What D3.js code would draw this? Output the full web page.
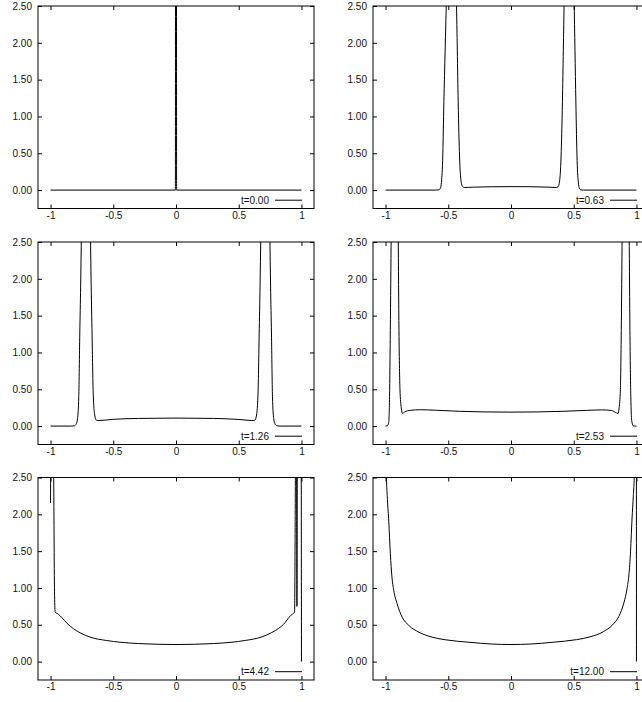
<!DOCTYPE html>
<html>
<head>
<meta charset="utf-8">
<script src="https://cdn.jsdelivr.net/npm/d3@7"></script>
<style>
  body { margin: 0; background: #fff; }
  svg { display: block; font-family: "Liberation Sans", Arial, sans-serif; }
</style>
</head>
<body>
<script>
// panel labels (legend text)
const times = ["t=0.00", "t=0.63", "t=1.26", "t=2.53", "t=4.42", "t=12.00"];

// axis ticks
const xTicks = [-1, -0.5, 0, 0.5, 1];
const xTickLabels = ["-1", "-0.5", "0", "0.5", "1"];
const yTicks = [0, 0.5, 1, 1.5, 2, 2.5];
const yTickLabels = ["0.00", "0.50", "1.00", "1.50", "2.00", "2.50"];

// curves, [x, value]
const curveT000 = [[-1, 0], [-0.005, 0], [0, 30], [0.005, 0], [1, 0]];

const curveT063 = [[-1, 0], [-0.6, 0], [-0.575, 0.002], [-0.562, 0.03], [-0.555, 0.1], [-0.545, 0.4],
  [-0.535, 1.2], [-0.525, 1.9], [-0.515, 2.6], [-0.495, 5], [-0.475, 6], [-0.455, 5], [-0.435, 2.6],
  [-0.428, 1.9], [-0.421, 1.2], [-0.41, 0.45], [-0.398, 0.12], [-0.385, 0.045], [-0.37, 0.035],
  [-0.3, 0.04], [-0.15, 0.045], [0, 0.047], [0.15, 0.046], [0.3, 0.04], [0.36, 0.035], [0.375, 0.045],
  [0.387, 0.12], [0.399, 0.45], [0.41, 1.2], [0.417, 1.9], [0.424, 2.6], [0.444, 5], [0.463, 6],
  [0.483, 5], [0.503, 2.6], [0.51, 1.9], [0.517, 1.2], [0.527, 0.4], [0.537, 0.1], [0.544, 0.03],
  [0.557, 0.002], [0.58, 0], [1, 0]];

const curveT126 = [[-1, 0], [-0.84, 0], [-0.81, 0.004], [-0.795, 0.03], [-0.785, 0.1], [-0.775, 0.4],
  [-0.767, 1.25], [-0.76, 1.9], [-0.754, 2.6], [-0.735, 5], [-0.718, 6], [-0.7, 5], [-0.682, 2.6],
  [-0.676, 1.9], [-0.669, 1.25], [-0.66, 0.45], [-0.648, 0.15], [-0.635, 0.08], [-0.62, 0.075],
  [-0.5, 0.092], [-0.3, 0.104], [0, 0.109], [0.3, 0.104], [0.5, 0.09], [0.6, 0.076], [0.615, 0.075],
  [0.629, 0.08], [0.642, 0.15], [0.654, 0.45], [0.663, 1.25], [0.67, 1.9], [0.676, 2.6], [0.694, 5],
  [0.712, 6], [0.73, 5], [0.748, 2.6], [0.754, 1.9], [0.761, 1.25], [0.769, 0.4], [0.779, 0.1],
  [0.789, 0.03], [0.804, 0.004], [0.83, 0], [1, 0]];

const curveT253 = [[-1, 0], [-0.985, 0.005], [-0.975, 0.05], [-0.968, 0.4], [-0.962, 1.3], [-0.955, 2.6],
  [-0.94, 5], [-0.927, 6], [-0.914, 5], [-0.899, 2.6], [-0.893, 1.3], [-0.885, 0.5], [-0.875, 0.25],
  [-0.865, 0.172], [-0.85, 0.19], [-0.8, 0.215], [-0.72, 0.222], [-0.6, 0.215], [-0.4, 0.2],
  [-0.2, 0.192], [0, 0.19], [0.2, 0.192], [0.4, 0.2], [0.6, 0.213], [0.72, 0.22], [0.8, 0.212],
  [0.84, 0.18], [0.854, 0.172], [0.862, 0.25], [0.872, 0.5], [0.879, 1.3], [0.886, 2.6], [0.9, 5],
  [0.914, 6], [0.928, 5], [0.942, 2.6], [0.948, 1.3], [0.955, 0.4], [0.962, 0.08], [0.973, 0.005],
  [0.985, 0], [1, 0]];

const curveT442 = [[-1, 2.155], [-0.99, 5], [-0.98, 4], [-0.975, 2.6], [-0.968, 0.9], [-0.963, 0.673],
  [-0.936, 0.641], [-0.909, 0.596], [-0.87, 0.523], [-0.817, 0.446], [-0.764, 0.391], [-0.684, 0.332],
  [-0.552, 0.286], [-0.446, 0.263], [-0.3, 0.245], [0, 0.232], [0.3, 0.245], [0.446, 0.263],
  [0.552, 0.287], [0.684, 0.335], [0.764, 0.395], [0.817, 0.45], [0.87, 0.53], [0.9, 0.6],
  [0.925, 0.64], [0.945, 0.673], [0.952, 2.6], [0.956, 4], [0.961, 3], [0.964, 0.75], [0.967, 3],
  [0.975, 5], [0.997, 4], [1, 0]];

const curveT1200 = [[-1, 8], [-0.994, 2.6], [-0.985, 2.2], [-0.974, 1.9], [-0.962, 1.47], [-0.949, 1.15],
  [-0.935, 0.97], [-0.908, 0.787], [-0.868, 0.604], [-0.814, 0.491], [-0.735, 0.4], [-0.629, 0.332],
  [-0.522, 0.296], [-0.336, 0.263], [-0.15, 0.238], [0, 0.232], [0.15, 0.238], [0.336, 0.263],
  [0.522, 0.298], [0.629, 0.336], [0.735, 0.405], [0.81, 0.5], [0.86, 0.615], [0.9, 0.8],
  [0.925, 0.99], [0.94, 1.18], [0.953, 1.5], [0.965, 1.95], [0.975, 2.25], [0.984, 2.6],
  [0.995, 5], [0.999, 5], [1, 0]];

const curves = [curveT000, curveT063, curveT126, curveT253, curveT442, curveT1200];

const width = 642, height = 702;
const colX = [38, 373];
const rowY = [6, 242, 477.5];
const boxW = 276, boxH = 202.5;

const svg = d3.select("body").append("svg")
  .attr("width", width)
  .attr("height", height);

curves.forEach((data, i) => {
  const left = colX[i % 2], top = rowY[Math.floor(i / 2)];
  const x = d3.scaleLinear().domain([-1.1, 1.1]).range([left, left + boxW]);
  const y = d3.scaleLinear().domain([-0.25, 2.5]).range([top + boxH, top]);

  const g = svg.append("g");

  g.append("clipPath").attr("id", "clip" + i)
    .append("rect")
    .attr("x", left).attr("y", top)
    .attr("width", boxW).attr("height", boxH);

  // axes, ticks pointing inward like gnuplot
  g.append("g")
    .attr("transform", `translate(0,${top + boxH})`)
    .call(d3.axisBottom(x).tickValues(xTicks).tickFormat((d, k) => xTickLabels[k]).tickSize(-4).tickPadding(3))
    .call(a => a.select(".domain").remove());
  g.append("g")
    .attr("transform", `translate(0,${top})`)
    .call(d3.axisTop(x).tickValues(xTicks).tickFormat("").tickSize(-4))
    .call(a => a.select(".domain").remove());
  g.append("g")
    .attr("transform", `translate(${left},0)`)
    .call(d3.axisLeft(y).tickValues(yTicks).tickFormat((d, k) => yTickLabels[k]).tickSize(-4).tickPadding(6))
    .call(a => a.select(".domain").remove());
  g.append("g")
    .attr("transform", `translate(${left + boxW},0)`)
    .call(d3.axisRight(y).tickValues(yTicks).tickFormat("").tickSize(-4))
    .call(a => a.select(".domain").remove());

  g.selectAll(".tick text")
    .attr("font-family", "'Liberation Sans', Arial, sans-serif")
    .attr("font-size", 10)
    .attr("fill", "#111");

  g.append("rect")
    .attr("x", left).attr("y", top)
    .attr("width", boxW).attr("height", boxH)
    .attr("fill", "none")
    .attr("stroke", "#000");

  const line = d3.line()
    .x(d => x(d[0]))
    .y(d => y(d[1]))
    .curve(d3.curveMonotoneX);

  g.append("path")
    .datum(data)
    .attr("clip-path", `url(#clip${i})`)
    .attr("fill", "none")
    .attr("stroke", "#000")
    .attr("stroke-width", 1)
    .attr("d", line);

  // legend
  const ly = top + boxH - 8.3;
  g.append("line")
    .attr("x1", left + boxW - 39).attr("x2", left + boxW - 12)
    .attr("y1", ly).attr("y2", ly)
    .attr("stroke", "#000");
  g.append("text")
    .attr("x", left + boxW - 45)
    .attr("y", ly + 3.6)
    .attr("text-anchor", "end")
    .attr("font-size", 10)
    .attr("fill", "#111")
    .text(times[i]);
});
</script>
</body>
</html>
